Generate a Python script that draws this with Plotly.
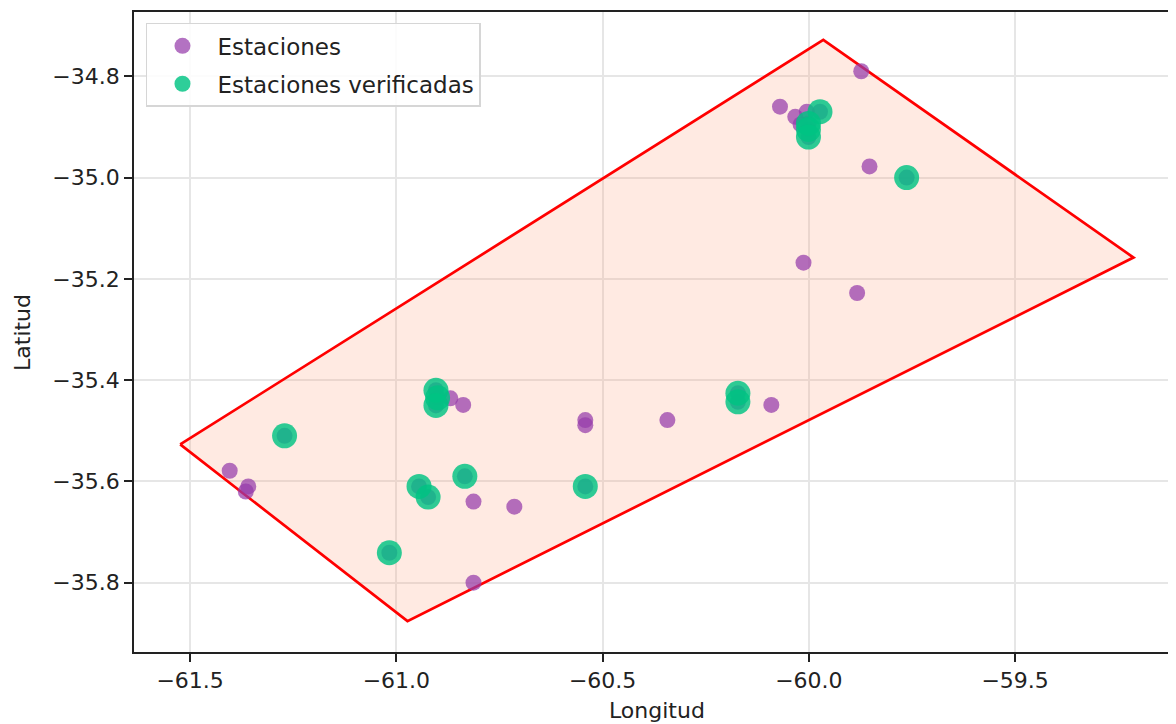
import plotly.graph_objects as go

# Polygon (study area) vertices
poly_lon = [-61.524, -59.965, -59.213, -60.973, -61.524]
poly_lat = [-35.527, -34.728, -35.158, -35.876, -35.527]

# All stations
est_lon = [-59.873, -60.070, -60.033, -60.005, -60.020, -59.973, -60.001, -60.001, -60.001,
           -59.853, -59.763, -60.013, -59.883, -61.271, -61.404, -61.359, -61.365,
           -60.904, -60.900, -60.904, -60.869, -60.838, -60.834, -60.945, -60.923,
           -60.813, -60.714, -61.017, -60.813, -60.542, -60.542, -60.542, -60.343,
           -60.172, -60.172, -60.091]
est_lat = [-34.790, -34.860, -34.880, -34.870, -34.895, -34.870, -34.893, -34.905, -34.920,
           -34.978, -35.000, -35.168, -35.228, -35.510, -35.579, -35.610, -35.620,
           -35.420, -35.435, -35.450, -35.436, -35.449, -35.590, -35.610, -35.631,
           -35.640, -35.650, -35.741, -35.800, -35.479, -35.489, -35.610, -35.479,
           -35.426, -35.443, -35.449]

# Verified stations
ver_lon = [-59.973, -60.001, -60.001, -60.001, -59.763, -61.271, -60.904, -60.900, -60.904,
           -60.834, -60.945, -60.923, -61.017, -60.542, -60.172, -60.172]
ver_lat = [-34.870, -34.893, -34.905, -34.920, -35.000, -35.510, -35.420, -35.435, -35.450,
           -35.590, -35.610, -35.631, -35.741, -35.610, -35.426, -35.443]

x_ticks = [-61.5, -61.0, -60.5, -60.0, -59.5]
x_tick_text = ["\u221261.5", "\u221261.0", "\u221260.5", "\u221260.0", "\u221259.5"]
y_ticks = [-35.8, -35.6, -35.4, -35.2, -35.0, -34.8]
y_tick_text = ["\u221235.8", "\u221235.6", "\u221235.4", "\u221235.2", "\u221235.0", "\u221234.8"]

FONT = "DejaVu Sans"

fig = go.Figure()
fig.add_trace(go.Scatter(
    x=poly_lon, y=poly_lat, mode="lines", fill="toself",
    fillcolor="rgba(255,160,122,0.22)", line=dict(color="red", width=2.7),
    showlegend=False, hoverinfo="skip"))
fig.add_trace(go.Scatter(
    x=est_lon, y=est_lat, mode="markers", name="Estaciones", legendgroup="a",
    marker=dict(size=16, color="rgba(150,60,170,0.72)", line=dict(width=0))))
fig.add_trace(go.Scatter(
    x=ver_lon, y=ver_lat, mode="markers", name="Estaciones verificadas", legendgroup="b",
    marker=dict(size=25, color="rgba(0,195,130,0.82)", line=dict(width=0))))

fig.update_layout(
    width=1168, height=716,
    margin=dict(l=126, r=0, t=4, b=72),
    paper_bgcolor="white", plot_bgcolor="white",
    font=dict(family=FONT, size=22, color="#222"),
    legend=dict(x=0.0115, y=0.983, xanchor="left", yanchor="top",
                bgcolor="rgba(255,255,255,0.85)", bordercolor="#d6d6d6", borderwidth=1.5,
                font=dict(size=23), itemwidth=60, tracegroupgap=5),
    xaxis=dict(range=[-61.636, -59.110], tickvals=x_ticks, ticktext=x_tick_text,
               showgrid=True, gridcolor="#e6e6e6", gridwidth=1.5, zeroline=False,
               showline=True, linecolor="#222", linewidth=1.8, mirror=True,
               ticks="outside", ticklen=8, tickwidth=1.6, tickcolor="#222",
               automargin=False),
    yaxis=dict(range=[-35.937, -34.673], tickvals=y_ticks, ticktext=y_tick_text,
               showgrid=True, gridcolor="#e6e6e6", gridwidth=1.5, zeroline=False,
               showline=True, linecolor="#222", linewidth=1.8, mirror=False,
               ticks="outside", ticklen=8, tickwidth=1.6, tickcolor="#222",
               automargin=False),
    annotations=[
        dict(text="Longitud", xref="paper", yref="paper", x=0.502, y=-0.0685,
             xanchor="center", yanchor="top", showarrow=False,
             font=dict(family=FONT, size=22, color="#222")),
        dict(text="Latitud", xref="paper", yref="paper", x=-0.1075, y=0.5,
             xanchor="center", yanchor="middle", textangle=-90, showarrow=False,
             font=dict(family=FONT, size=22, color="#222")),
    ],
)

fig.write_html("out.html")
